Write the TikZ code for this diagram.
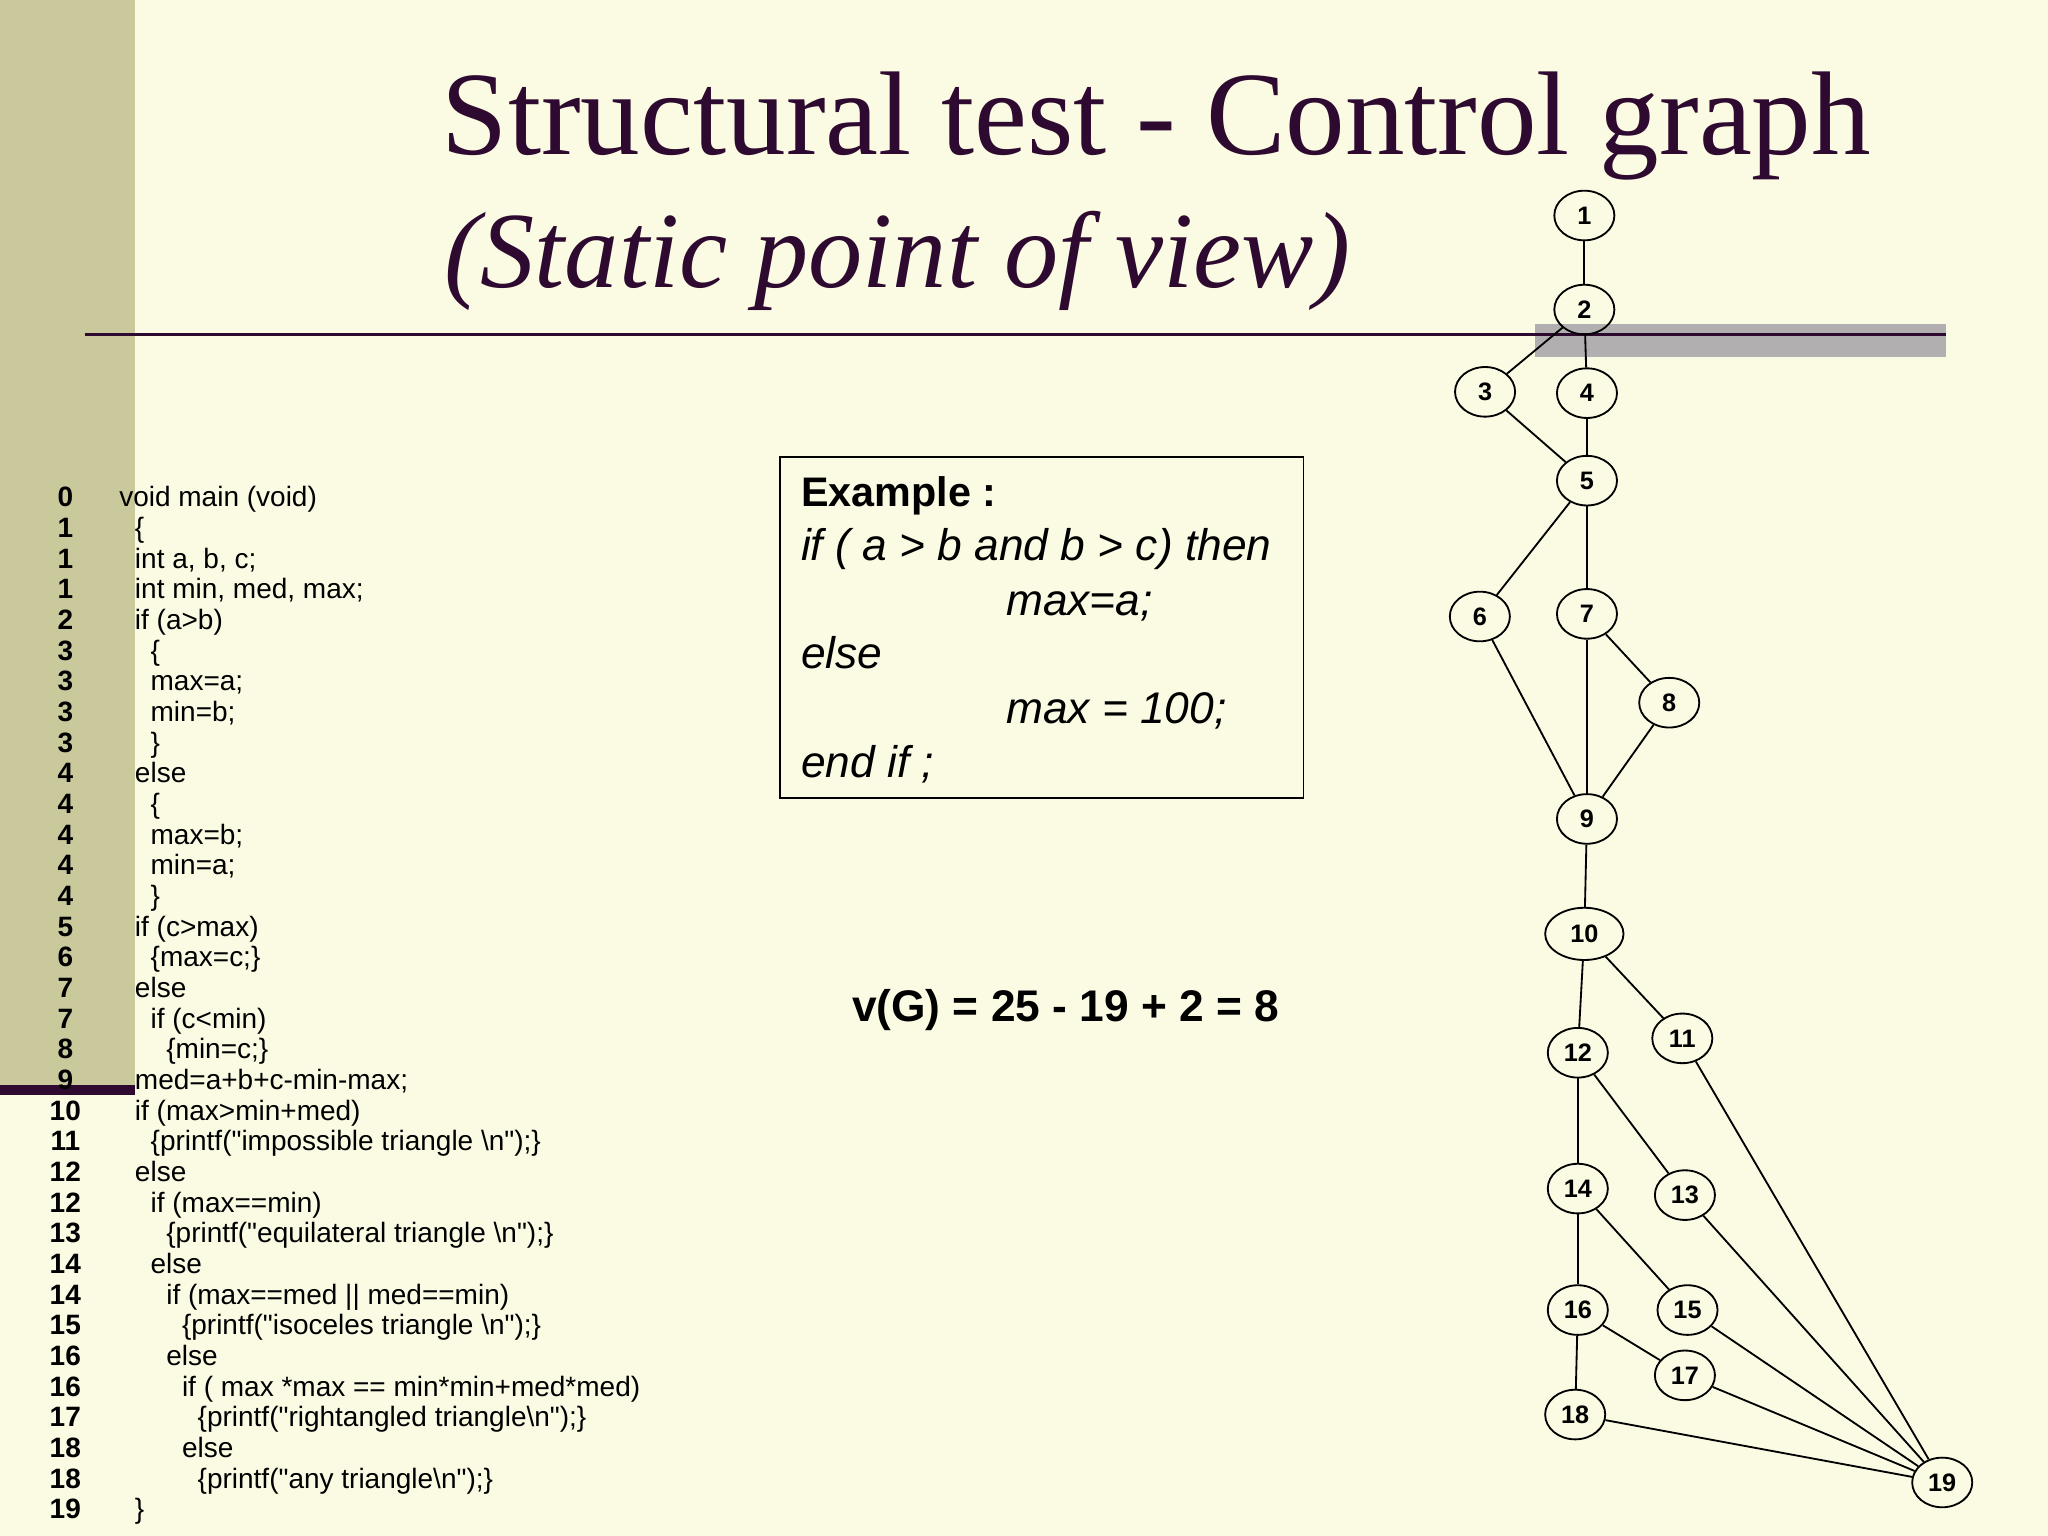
\documentclass[tikz,border=0pt]{standalone}
\usepackage{fontspec}
\setmainfont{Liberation Sans}[Ligatures=TeXOff]
\newfontfamily\titlefont{Liberation Serif}
\usetikzlibrary{shapes.geometric}
\definecolor{bg}{HTML}{FBFBE4}
\definecolor{olive}{HTML}{C9C99B}
\definecolor{plum}{HTML}{2E0A30}
\definecolor{graybar}{HTML}{B1AFAF}
\newcommand\qq{\symbol{34}}
\newlength\pgfxu \setlength\pgfxu{0.02cm}
\tikzset{
 gn/.style={ellipse,draw,thick,minimum width=46\pgfxu,minimum height=38\pgfxu,inner sep=0pt,font=\fontsize{11}{11}\selectfont\bfseries},
 ge/.style={thick},
 ln/.style={anchor=base,font=\fontsize{12.2}{12}\selectfont\bfseries},
 cd/.style={anchor=base west,font=\fontsize{12.2}{12}\selectfont,inner sep=0pt},
}
\begin{document}
\begin{tikzpicture}[x=0.02cm,y=-0.02cm]
\fill[bg] (0,0) rectangle (1568,1176);
\useasboundingbox (0,0) rectangle (1568,1176);
\fill[olive] (0,0) rectangle (103,835);
\fill[plum] (0,831) rectangle (103,838);
\fill[graybar] (1175,248) rectangle (1490,273);
\draw[plum,line width=1.5pt] (65,256) -- (1490,256);
\node[anchor=base west,inner sep=0,text=plum,font=\titlefont\fontsize{51.9}{50}\selectfont] (t1) at (338,118) {Structural test - Control graph};
\node[anchor=base west,inner sep=0,text=plum,font=\titlefont\itshape\fontsize{47.2}{48}\selectfont] (t2) at (340,220) {(Static point of view)};
% code
\foreach \n/\x/\t [count=\i from 0] in {
0/91/void main (void),
1/103/\{,
1/103/{int a, b, c;},
1/103/{int min, med, max;},
2/103/if (a>b),
3/115/\{,
3/115/max=a;,
3/115/min=b;,
3/115/\},
4/103/else,
4/115/\{,
4/115/max=b;,
4/115/min=a;,
4/115/\},
5/103/if (c>max),
6/115/\{max=c;\},
7/103/else,
7/115/if (c<min),
8/127/\{min=c;\},
9/103/med=a+b+c-min-max;,
10/103/if (max>min+med),
11/115/\{printf(\qq impossible triangle \textbackslash n\qq);\},
12/103/else,
12/115/if (max==min),
13/127/\{printf(\qq equilateral triangle \textbackslash n\qq);\},
14/115/else,
14/127/if (max==med || med==min),
15/139/\{printf(\qq isoceles triangle \textbackslash n\qq);\},
16/127/else,
16/139/if ( max *max == min*min+med*med),
17/151/\{printf(\qq rightangled triangle\textbackslash n\qq);\},
18/139/else,
18/151/\{printf(\qq any triangle\textbackslash n\qq);\},
19/103/\}}{
 \node[ln] (ln\i) at (50,{388+23.48*\i}) {\n};
 \node[cd] (cd\i) at (\x,{388+23.48*\i}) {\t};
}
% example box
\draw[thick] (597,350) rectangle (998,611);
\node[anchor=base west,inner sep=0,font=\fontsize{18}{18}\selectfont\bfseries] (ex) at (613,388) {Example :};
\begin{scope}[every node/.style={anchor=base west,inner sep=0,font=\fontsize{19.3}{19}\selectfont\itshape}]
\node (e1) at (613,429) {if ( a > b and b > c) then};
\node (e2) at (770,471) {max=a;};
\node (e3) at (613,512) {else};
\node (e4) at (770,554) {max = 100;};
\node (e5) at (613,595) {end if ;};
\end{scope}
\node[anchor=base west,inner sep=0,font=\fontsize{19.3}{19}\selectfont\bfseries] (vg) at (652,782) {v(G) = 25 - 19 + 2 = 8};
% graph
\foreach \k/\x/\y in {1/1213/165,2/1213/237,3/1137/300,4/1215/301,5/1215/368,6/1133/472,7/1215/470,8/1278/538,9/1215/627,11/1288/795,12/1208/806,13/1290/915,14/1208/910,15/1292/1003,16/1208/1003,17/1290/1053,18/1206/1083,19/1487/1135}
 \node[gn] (n\k) at (\x,\y) {\k};
\node[gn,minimum width=60\pgfxu,minimum height=40\pgfxu] (n10) at (1213,715) {10};
\foreach \a/\b in {1/2,2/3,2/4,3/5,4/5,5/6,5/7,6/9,7/9,7/8,8/9,9/10,10/12,10/11,12/14,12/13,14/16,14/15,16/18,16/17,11/19,13/19,15/19,17/19,18/19}
 \draw[ge] (n\a) -- (n\b);
\end{tikzpicture}
\end{document}
